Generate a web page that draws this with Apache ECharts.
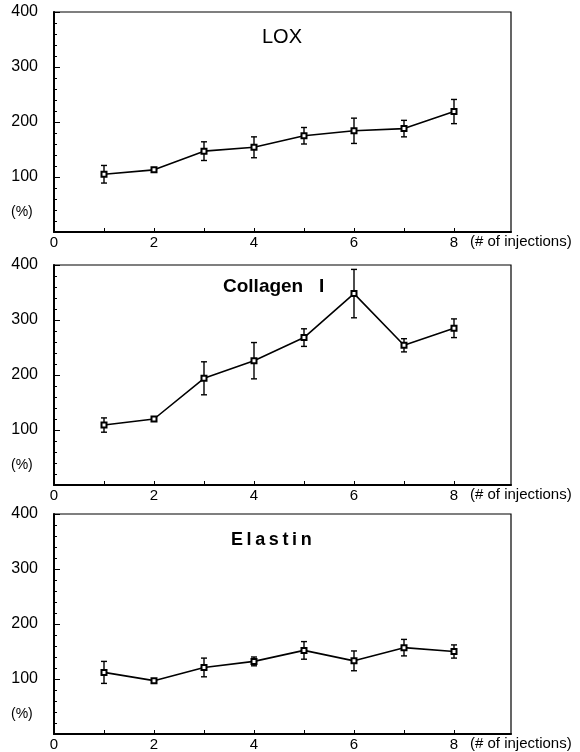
<!DOCTYPE html>
<html>
<head>
<meta charset="utf-8">
<script src="https://cdn.jsdelivr.net/npm/echarts@6/dist/echarts.min.js"></script>
<style>
  html, body { margin: 0; padding: 0; background: #fff; }
  #main { width: 580px; height: 752px; }
</style>
</head>
<body>
<div id="main"></div>
<script>
// injections 1..8
var injections = [1, 2, 3, 4, 5, 6, 7, 8];

var loxMean = [105, 113, 147, 154, 175, 184, 188, 219];
var loxErr  = [16, 4, 17, 19, 15, 23, 15, 22];

var colMean = [109, 120, 194, 226, 268, 348, 254, 285];
var colErr  = [13, 4, 30, 33, 16, 44, 12, 17];

var elaMean = [112, 97, 121, 132, 152, 133, 157, 150];
var elaErr  = [20, 2, 17, 8, 16, 18, 15, 12];

var xLabels = [0, 2, 4, 6, 8];
var yLabels = [100, 200, 300, 400];

var panels = [
  { title: 'LOX', mean: loxMean, err: loxErr, top: 12, tx: 262, ty: 27, size: 20, weight: 'normal' },
  { title: 'Collagen   I', mean: colMean, err: colErr, top: 265, tx: 223, ty: 277, size: 19, weight: 'bold' },
  { title: 'E\u2009l\u2009a\u2009s\u2009t\u2009i\u2009n', mean: elaMean, err: elaErr, top: 514, tx: 231, ty: 531, size: 18, weight: 'bold' }
];

var font = '"Liberation Sans", Arial, sans-serif';
var chart = echarts.init(document.getElementById('main'));

var grids = [], xAxes = [], yAxes = [], series = [], graphics = [];

panels.forEach(function (p, i) {
  grids.push({
    left: 54, top: p.top, width: 457, height: 220,
    show: true, borderColor: '#000', borderWidth: 1.2, backgroundColor: '#fff'
  });
  xAxes.push({
    type: 'value', gridIndex: i, min: 0, max: 9.14, interval: 1,
    axisLine: { lineStyle: { color: '#000', width: 2 } },
    axisTick: { inside: true, length: 4, lineStyle: { color: '#000' }, customValues: injections },
    splitLine: { show: false },
    axisLabel: {
      color: '#000', fontFamily: font, fontSize: 15, margin: 3,
      customValues: xLabels
    }
  });
  yAxes.push({
    type: 'value', gridIndex: i, min: 0, max: 400, interval: 100,
    axisLine: { show: true, lineStyle: { color: '#000', width: 2 } },
    axisTick: { show: true, inside: true, length: 6, lineStyle: { color: '#000' } },
    minorTick: { show: true, splitNumber: 5, length: 3, lineStyle: { color: '#000' } },
    splitLine: { show: false },
    axisLabel: {
      color: '#000', fontFamily: font, fontSize: 16, margin: 16,
      customValues: yLabels
    }
  });

  var pts = injections.map(function (x, k) { return [x, p.mean[k]]; });
  var bars = injections.map(function (x, k) { return [x, p.mean[k] - p.err[k], p.mean[k] + p.err[k]]; });

  series.push({
    type: 'custom', xAxisIndex: i, yAxisIndex: i, data: bars, silent: true,
    renderItem: function (params, api) {
      var lo = api.coord([api.value(0), api.value(1)]);
      var hi = api.coord([api.value(0), api.value(2)]);
      var w = 3;
      var st = { stroke: '#000', lineWidth: 1.4 };
      return {
        type: 'group',
        children: [
          { type: 'line', shape: { x1: lo[0], y1: lo[1], x2: hi[0], y2: hi[1] }, style: st },
          { type: 'line', shape: { x1: lo[0] - w, y1: lo[1], x2: lo[0] + w, y2: lo[1] }, style: st },
          { type: 'line', shape: { x1: hi[0] - w, y1: hi[1], x2: hi[0] + w, y2: hi[1] }, style: st }
        ]
      };
    }
  });
  series.push({
    type: 'line', xAxisIndex: i, yAxisIndex: i, data: pts,
    symbol: 'emptyRect', symbolSize: 5, showAllSymbol: true,
    lineStyle: { color: '#000', width: 1.6 },
    itemStyle: { color: '#000', borderColor: '#000', borderWidth: 1.2 },
    z: 3
  });

  graphics.push({
    type: 'text', left: p.tx, top: p.ty,
    style: { text: p.title, fill: '#000', fontFamily: font, fontSize: p.size, fontWeight: p.weight }
  });
  graphics.push({
    type: 'text', left: 11, top: p.top + 193,
    style: { text: '(%)', fill: '#000', fontFamily: font, fontSize: 14 }
  });
  graphics.push({
    type: 'text', left: 470, top: p.top + 222,
    style: { text: '(# of injections)', fill: '#000', fontFamily: font, fontSize: 15 }
  });
});

chart.setOption({
  animation: false,
  backgroundColor: '#fff',
  grid: grids,
  xAxis: xAxes,
  yAxis: yAxes,
  series: series,
  graphic: graphics
});
</script>
</body>
</html>
